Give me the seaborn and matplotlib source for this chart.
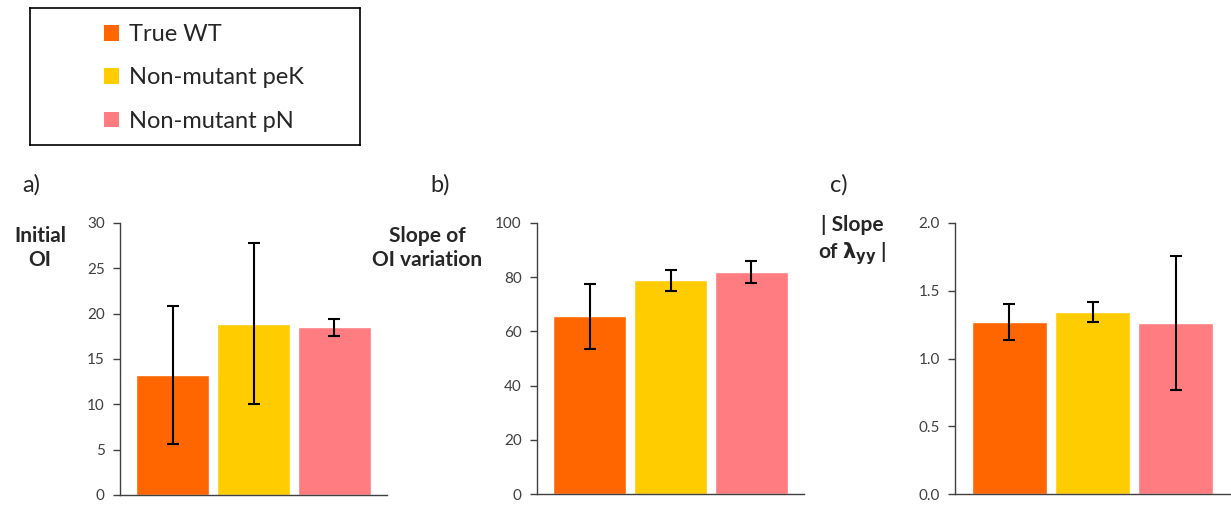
import seaborn as sns
import pandas as pd
import matplotlib.pyplot as plt
from matplotlib.patches import Patch

groups = ['True WT', 'Non-mutant peK', 'Non-mutant pN']
colors = ['#FF6600', '#FFCC00', '#FF7C80']

initial_oi = [13.2, 18.9, 18.5]
initial_oi_err = [7.6, 8.9, 0.95]

slope_oi = [65.5, 78.8, 81.8]
slope_oi_err = [12.0, 4.0, 4.0]

slope_lam = [1.27, 1.345, 1.265]
slope_lam_err = [0.13, 0.075, 0.495]

sns.set_style('white')
plt.rcParams['font.family'] = ['Lato', 'DejaVu Sans']

W, H = 1231, 505
fig = plt.figure(figsize=(W / 100, H / 100), dpi=100)

panels = [
    ([120/W, 10/H, 267/W, 272/H], initial_oi, initial_oi_err, 30, 5, '{:.0f}',
     'a)', (22, 185), 'Initial\nOI', (40, 248)),
    ([537/W, 11/H, 267/W, 271/H], slope_oi, slope_oi_err, 100, 20, '{:.0f}',
     'b)', (430, 185), 'Slope of\nOI variation', (427, 248)),
    ([955/W, 11/H, 275/W, 271/H], slope_lam, slope_lam_err, 2.0, 0.5, '{:.1f}',
     'c)', (830, 185), '| Slope\nof $\\mathbf{\\lambda_{yy}}$ |', (852, 241)),
]

for rect, vals, errs, ymax, step, fmt, tag, tagpos, ylab, ylabpos in panels:
    ax = fig.add_axes(rect)
    df = pd.DataFrame({'group': groups, 'value': vals})
    sns.barplot(data=df, x='group', y='value', hue='group', palette=colors,
                width=0.9, saturation=1, legend=False, ax=ax)
    ax.errorbar(range(len(vals)), vals, yerr=errs, fmt='none', ecolor='black',
                elinewidth=1.5, capsize=4, capthick=1.5)
    ax.set_xlim(-0.65, 2.65)
    ax.set_ylim(0, ymax)
    ticks = [i * step for i in range(int(round(ymax / step)) + 1)]
    ax.set_yticks(ticks)
    ax.set_yticklabels([fmt.format(t) for t in ticks], fontsize=11, color='#404040')
    ax.set_xticks([])
    ax.set_xlabel('')
    ax.set_ylabel('')
    sns.despine(ax=ax)
    for s in ['left', 'bottom']:
        ax.spines[s].set_color('#404040')
        ax.spines[s].set_linewidth(1)
    ax.tick_params(axis='y', left=True, direction='out', length=5, width=1,
                   color='#404040', pad=6)
    fig.text(tagpos[0] / W, 1 - tagpos[1] / H, tag, fontsize=17, ha='left', va='center')
    fig.text(ylabpos[0] / W, 1 - ylabpos[1] / H, ylab, fontsize=15, fontweight='bold',
             ha='center', va='center', linespacing=1.3)

# legend box
lax = fig.add_axes([30/W, 360/H, 330/W, 137/H])
lax.set_xticks([])
lax.set_yticks([])
for s in lax.spines.values():
    s.set_color('black')
    s.set_linewidth(1.2)
    s.set_visible(True)
handles = [Patch(facecolor=c, edgecolor='none') for c in colors]
lax.legend(handles, groups, loc='center left', bbox_to_anchor=(0.16, 0.49),
           frameon=False, fontsize=17, handlelength=0.65, handleheight=0.65,
           handletextpad=0.4, labelspacing=0.95)

fig.savefig('out.png', dpi=100)
plt.close()
